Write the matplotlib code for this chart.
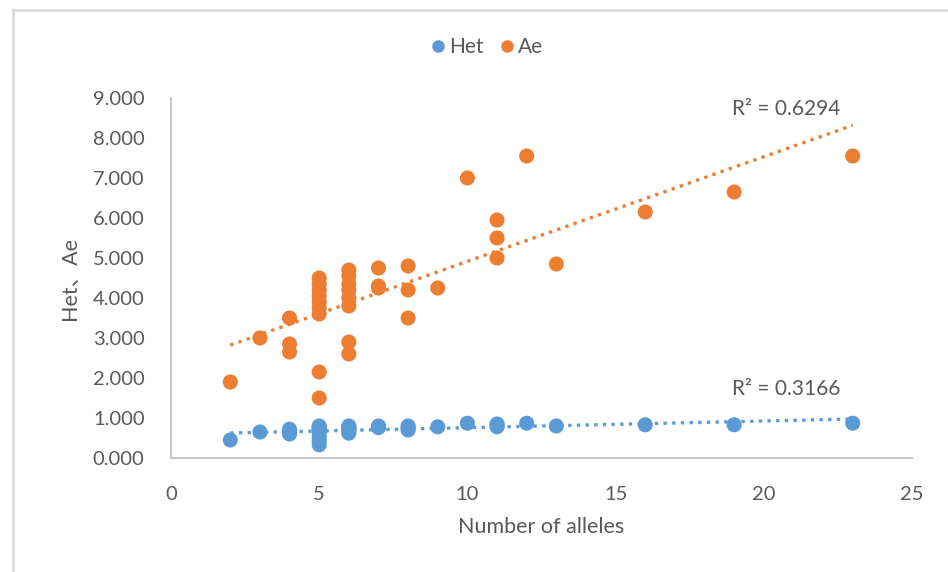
import numpy as np
import matplotlib
matplotlib.use("Agg")
import matplotlib.pyplot as plt
from matplotlib.lines import Line2D

# ---- data ----
ae_x = [2, 3, 4, 4, 4,
        5, 5, 5, 5, 5, 5, 5, 5, 5,
        6, 6, 6, 6, 6, 6, 6, 6,
        7, 7, 7, 8, 8, 8, 9, 10, 11, 11, 11, 12, 13, 16, 19, 23]
ae_y = [1.90, 3.00, 3.50, 2.85, 2.65,
        4.50, 4.35, 4.20, 4.05, 3.90, 3.75, 3.60, 2.15, 1.50,
        4.70, 4.55, 4.35, 4.20, 4.00, 3.80, 2.90, 2.60,
        4.75, 4.30, 4.25, 4.80, 4.20, 3.50, 4.25, 7.00, 5.95, 5.50, 5.00, 7.55, 4.85, 6.15, 6.65, 7.55]

het_x = ae_x
het_y = [0.45, 0.65, 0.72, 0.65, 0.60,
         0.80, 0.78, 0.75, 0.72, 0.70, 0.62, 0.52, 0.42, 0.33,
         0.80, 0.78, 0.76, 0.73, 0.70, 0.68, 0.65, 0.62,
         0.80, 0.78, 0.76, 0.80, 0.75, 0.70, 0.78, 0.87, 0.85, 0.82, 0.78, 0.87, 0.80, 0.83, 0.83, 0.87]

r2_labels = ["R² = 0.6294", "R² = 0.3166"]
x_ticks = [0, 5, 10, 15, 20, 25]
y_ticks = [0, 1, 2, 3, 4, 5, 6, 7, 8, 9]

BLUE = "#5B9BD5"
ORANGE = "#ED7D31"
TXT = "#595959"
FONT = ["Lato", "Noto Sans CJK SC", "DejaVu Sans"]
plt.rcParams['font.family'] = FONT

fig = plt.figure(figsize=(9.48, 5.72), dpi=100)
fig.patch.set_facecolor("white")
# outer chart frame (top and left edges visible)
fig.add_artist(Line2D([13/948, 13/948], [0, 1 - 10/572], transform=fig.transFigure,
                      color="#D9D9D9", linewidth=1.8))
fig.add_artist(Line2D([13/948, 1], [1 - 10/572, 1 - 10/572], transform=fig.transFigure,
                      color="#D9D9D9", linewidth=1.8))

ax = fig.add_axes([171/948, 1 - 458/572, (912-171)/948, (458-98)/572])
ax.set_xlim(0, 25)
ax.set_ylim(0, 9)

ax.scatter(het_x, het_y, s=118, color=BLUE, edgecolor="none", zorder=3)
ax.scatter(ae_x, ae_y, s=118, color=ORANGE, edgecolor="none", zorder=3)

# linear trend lines
for xs, ys, col in [(het_x, het_y, BLUE), (ae_x, ae_y, ORANGE)]:
    k, b = np.polyfit(xs, ys, 1)
    xx = np.array([min(xs), max(xs)])
    ax.plot(xx, k * xx + b, linestyle=(0, (1, 1.6)), color=col, linewidth=2.4, zorder=2)

ax.text(20.75, 8.72, r2_labels[0], fontsize=15, color=TXT, ha="center", va="center")
ax.text(20.75, 1.72, r2_labels[1], fontsize=15, color=TXT, ha="center", va="center")

ax.set_xticks(x_ticks)
ax.set_yticks(y_ticks)
ax.set_yticklabels([f"{v:.3f}" for v in y_ticks])
ax.tick_params(axis="both", length=0, labelsize=14.5, labelcolor=TXT)
ax.tick_params(axis="y", pad=19)
ax.tick_params(axis="x", pad=20)
for s in ["top", "right"]:
    ax.spines[s].set_visible(False)
for s in ["left", "bottom"]:
    ax.spines[s].set_color("#BFBFBF")
    ax.spines[s].set_linewidth(1.3)

ax.set_xlabel("Number of alleles", fontsize=15.5, color=TXT)
ax.set_ylabel("Het、Ae", fontsize=15.5, color=TXT)
ax.xaxis.set_label_coords(0.5, -(517 - 458) / 360)
ax.yaxis.set_label_coords(-(171 - 80) / 741, 0.5)

handles = [Line2D([], [], marker="o", linestyle="none", color=BLUE, markersize=8),
           Line2D([], [], marker="o", linestyle="none", color=ORANGE, markersize=8)]
fig.legend(handles, ["Het", "Ae"], loc="center", bbox_to_anchor=(0.512, 1 - 47/572),
           ncol=2, frameon=False, fontsize=15, labelcolor=TXT,
           handletextpad=0.05, columnspacing=0.6, handlelength=1.0)

fig.savefig("out.png", dpi=100)
